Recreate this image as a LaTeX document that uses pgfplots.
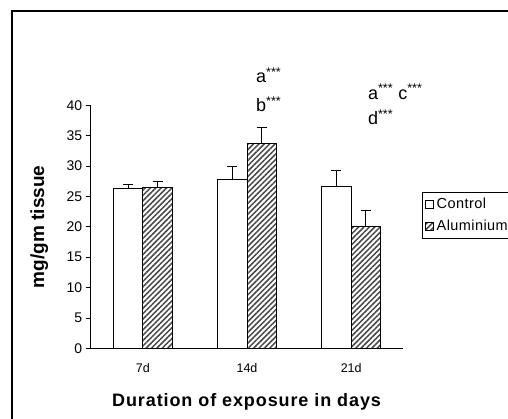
\documentclass[border=0pt]{standalone}
\usepackage{pgfplots}
\pgfplotsset{compat=1.18}
\usepackage{fontspec}
\setmainfont{Liberation Sans}
\usetikzlibrary{patterns.meta}
\begin{document}
\begin{tikzpicture}[x=1pt,y=1pt]
\path[use as bounding box] (0,0) rectangle (508,419);
\clip (0,0) rectangle (508,419);
\draw[line width=1.6pt] (12,-10) -- (12,408) -- (520,408);
\begin{axis}[
  at={(90.7pt,70.7pt)}, anchor=south west,
  scale only axis, width=312.6pt, height=243pt,
  xmin=0.5, xmax=3.5, ymin=0, ymax=40,
  axis x line=bottom, axis y line=left,
  axis line style={line width=0.8pt,-},
  xtick={1,2,3}, xticklabels={7d,14d,21d},
  extra x ticks={1.5,2.5,3.5}, extra x tick labels={},
  extra x tick style={major tick length=6pt, tick style={line width=0.8pt,black}, tick align=center},
  xtick style={draw=none},
  ytick={0,5,...,40},
  y tick style={line width=0.8pt,black}, major tick length=5pt,
  tick align=outside,
  yticklabel style={font=\fontsize{14}{16}\selectfont},
  xticklabel style={font=\fontsize{12.5}{14}\selectfont, yshift=-7pt},
  /pgf/number format/assume math mode=true,
  ylabel={\textbf{mg/gm tissue}}, ylabel style={font=\fontsize{19}{21}\selectfont, at={(axis description cs:-0.125,0.5)}},
  xlabel={\addfontfeature{LetterSpace=5}\textbf{Duration of exposure in days}}, xlabel style={font=\fontsize{18}{20}\selectfont, at={(axis description cs:0.5,-0.172)}},
  ybar, bar width=29.5pt,
  legend style={at={(1.059,0.643)}, anchor=north west, draw=black, line width=0.8pt,
    font=\addfontfeature{LetterSpace=3}\fontsize{14.5}{16}\selectfont, row sep=6pt, inner xsep=3pt, inner ysep=4pt,
    legend cell align=left, nodes={inner xsep=2.5pt}},
  legend image code/.code={\draw[line width=1pt, #1] (0pt,-4pt) rectangle (8pt,4pt);},
  clip=false,
]
\addplot[draw=black, fill=white, line width=1pt, bar shift=-14.75pt,
  error bars/.cd, y dir=plus, y explicit, error bar style={line width=1pt}, error mark options={rotate=90, mark size=5pt, line width=1pt}]
  coordinates {(1,26.25) +- (0,0.75) (2,27.8) +- (0,2.2) (3,26.6) +- (0,2.6)};
\addplot[draw=black, line width=1pt, bar shift=14.75pt,
  pattern={Lines[angle=45,distance=3.8pt,line width=1.5pt]}, pattern color=black!72,
  error bars/.cd, y dir=plus, y explicit, error bar style={line width=1pt}, error mark options={rotate=90, mark size=5pt, line width=1pt}]
  coordinates {(1,26.4) +- (0,1.0) (2,33.7) +- (0,2.7) (3,20.0) +- (0,2.7)};
\legend{Control,Aluminium}
\node[anchor=base west, inner sep=0pt, font=\fontsize{18}{20}\selectfont] at (axis cs:2.086,43.7) {a\textsuperscript{***}};
\node[anchor=base west, inner sep=0pt, font=\fontsize{18}{20}\selectfont] at (axis cs:2.086,38.9) {b\textsuperscript{***}};
\node[anchor=base west, inner sep=0pt, font=\fontsize{18}{20}\selectfont] at (axis cs:3.16,41.0) {a\textsuperscript{***} c\textsuperscript{***}};
\node[anchor=base west, inner sep=0pt, font=\fontsize{18}{20}\selectfont] at (axis cs:3.16,36.8) {d\textsuperscript{***}};
\end{axis}
\end{tikzpicture}
\end{document}
